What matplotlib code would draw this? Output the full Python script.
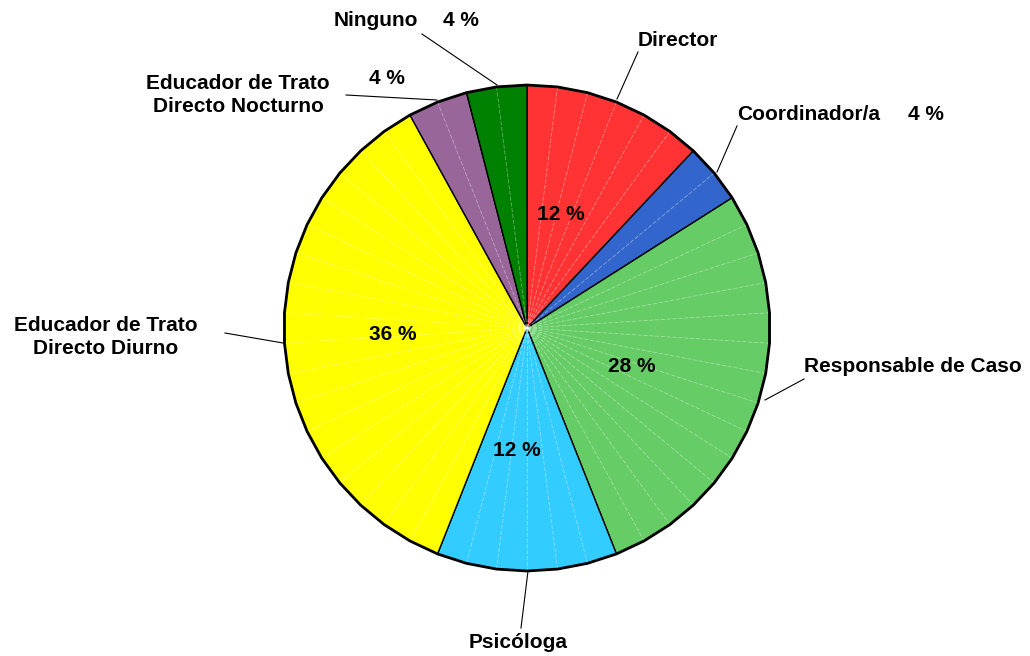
import numpy as np
import matplotlib.pyplot as plt
from matplotlib.patches import Polygon

labels = ['Director', 'Coordinador/a', 'Responsable de Caso', 'Psicóloga',
          'Educador de Trato\nDirecto Diurno', 'Educador de Trato\nDirecto Nocturno', 'Ninguno']
values = [12, 4, 28, 12, 36, 4, 4]
colors = ['#FF3333', '#3366CC', '#66CC66', '#33CCFF', '#FFFF00', '#996699', '#008000']

# pie geometry in pixel coords (y down)
cx, cy, r = 527, 328, 243

fig = plt.figure(figsize=(10.3, 6.56), dpi=100)
ax = fig.add_axes([0, 0, 1, 1])
ax.set_xlim(0, 1030)
ax.set_ylim(656, 0)
ax.axis('off')

def pt(deg, rad=r):
    t = np.deg2rad(deg)
    return cx + rad * np.sin(t), cy - rad * np.cos(t)

total = sum(values)
start = 0.0
outline = []
for val, col in zip(values, colors):
    span = 360.0 * val / total
    n = max(int(val / 2), 1)
    angs = np.linspace(start, start + span, n + 1)
    verts = [(cx, cy)] + [pt(a) for a in angs]
    outline += [pt(a) for a in angs[:-1]]
    ax.add_patch(Polygon(verts, closed=True, facecolor=col, edgecolor='black', lw=1.0, zorder=2))
    # faint inner lines
    for a in angs[1:-1]:
        x, y = pt(a)
        ax.plot([cx, x], [cy, y], color='white', lw=0.6, alpha=0.4, ls=(0, (5, 2)), zorder=3)
    start += span

ax.add_patch(Polygon(outline, closed=True, facecolor='none', edgecolor='black', lw=2.0, zorder=4))

fs = 15
kw = dict(fontsize=fs, fontweight='bold', family='Liberation Sans', color='black', zorder=5)

# percentage labels inside
ax.text(561, 215, '%d %%' % values[0], ha='center', va='center', **kw)
ax.text(632, 367, '%d %%' % values[2], ha='center', va='center', **kw)
ax.text(517, 450, '%d %%' % values[3], ha='center', va='center', **kw)
ax.text(393, 335, '%d %%' % values[4], ha='center', va='center', **kw)

# outside labels
ax.text(638, 40, labels[0], ha='left', va='center', **kw)
ax.text(737, 115, labels[1], ha='left', va='center', **kw)
ax.text(944, 115, '%d %%' % values[1], ha='right', va='center', **kw)
ax.text(804, 367, labels[2], ha='left', va='center', **kw)
ax.text(518, 643, labels[3], ha='center', va='center', **kw)
ax.text(106, 337, labels[4], ha='center', va='center', linespacing=1.3, **kw)
ax.text(238, 95, labels[5], ha='center', va='center', linespacing=1.3, **kw)
ax.text(387, 78, '%d %%' % values[5], ha='center', va='center', **kw)
ax.text(418, 21, labels[6], ha='right', va='center', **kw)
ax.text(461, 21, '%d %%' % values[6], ha='center', va='center', **kw)

# leader lines
leaders = [((617, 99), (638, 52)), ((717, 172), (737, 126)), ((765, 400), (804, 379)),
           ((528, 571), (521, 628)), ((283, 343), (225, 333)), ((437, 100), (346, 95)),
           ((497, 85), (422, 34))]
for (x0, y0), (x1, y1) in leaders:
    ax.plot([x0, x1], [y0, y1], color='black', lw=0.8, zorder=1)

fig.savefig('out.png', dpi=100, facecolor='white')
